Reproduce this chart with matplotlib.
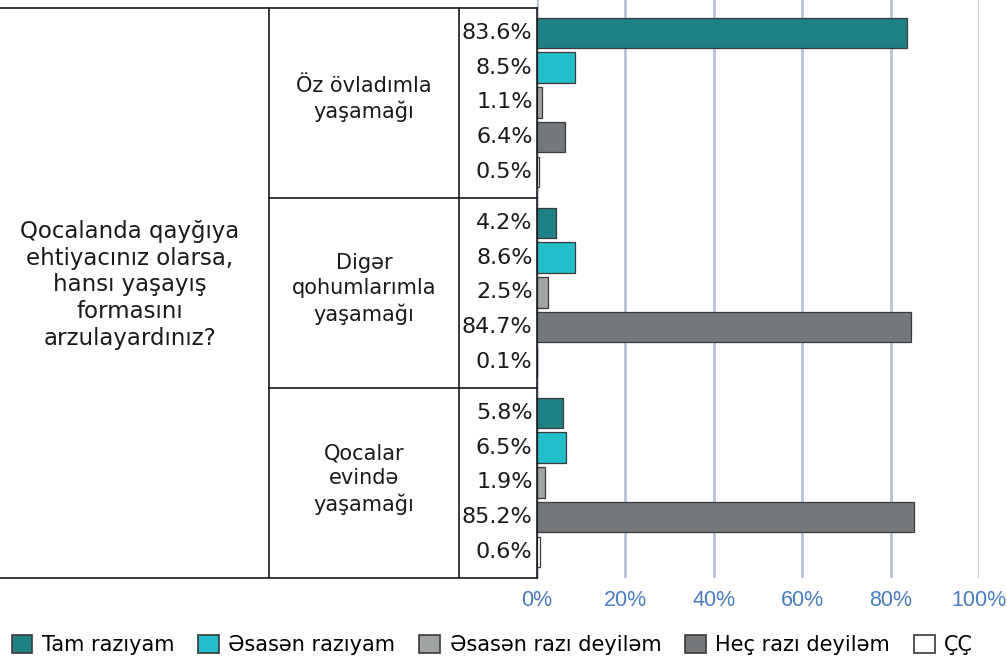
import numpy as np
import matplotlib
matplotlib.use("Agg")
import matplotlib.pyplot as plt
from matplotlib.patches import Patch
from matplotlib.lines import Line2D

# ---------------------------------------------------------------------------
# Données
# ---------------------------------------------------------------------------
QUESTION = "Qocalanda qayğıya\nehtiyacınız olarsa,\nhansı yaşayış\nformasını\narzulayardınız?"
GROUPS = ["Öz övladımla\nyaşamağı", "Digər\nqohumlarımla\nyaşamağı", "Qocalar\nevində\nyaşamağı"]
ANSWERS = ["Tam razıyam", "Əsasən razıyam", "Əsasən razı deyiləm", "Heç razı deyiləm", "ÇÇ"]

tam_raziyam   = [83.6, 4.2, 5.8]
esasen_razi   = [8.5, 8.6, 6.5]
esasen_deyil  = [1.1, 2.5, 1.9]
hec_deyil     = [6.4, 84.7, 85.2]
cc            = [0.5, 0.1, 0.6]

XTICKS = [0, 20, 40, 60, 80, 100]
XTICK_LABELS = ["0%", "20%", "40%", "60%", "80%", "100%"]

COLORS = ["#1f8086", "#22bfca", "#a0a3a4", "#75787b", "#ffffff"]
EDGE = "#3a3a3a"
TICK_BLUE = "#4a7cc0"

W, H = 1007, 659

# Mise en page (pixels, origine en haut à gauche)
TOP, BOTTOM = 8, 578
X0, X100 = 537, 979
SLOT_PX = 34.7          # pas entre deux barres d'un même groupe
PAD_PX = 25.0           # marge haut/bas dans un groupe


def px(x, y):
    """pixels -> coordonnées figure"""
    return x / W, 1 - y / H


def main() -> None:
    series = [tam_raziyam, esasen_razi, esasen_deyil, hec_deyil, cc]
    n_groups = len(GROUPS)
    n_ans = len(ANSWERS)
    group_px = (BOTTOM - TOP) / n_groups

    fig = plt.figure(figsize=(W / 100, H / 100), dpi=100)

    # axe des barres : du haut de l'image jusqu'au bas du tableau, en pixels
    ax = fig.add_axes([X0 / W, 1 - BOTTOM / H, (X100 - X0) / W, BOTTOM / H])
    ax.set_ylim(BOTTOM, 0)
    ax.set_xlim(0, 100)

    for g in range(n_groups):
        for k in range(n_ans):
            yc = TOP + g * group_px + PAD_PX + k * SLOT_PX
            val = series[k][g]
            ax.barh(yc, val, height=30.5, color=COLORS[k], edgecolor=EDGE, linewidth=0.9, zorder=3)
            ax.text(-0.01, yc, f"{val:.1f}%", transform=ax.get_yaxis_transform(),
                    ha="right", va="center", fontsize=16, color="#1a1a1a",
                    family="DejaVu Sans")

    ax.set_xticks(XTICKS)
    ax.set_xticklabels(XTICK_LABELS, fontsize=15.5, color=TICK_BLUE, family="Liberation Sans")
    ax.tick_params(axis="x", length=0, pad=9)
    ax.set_yticks([])
    for s in ax.spines.values():
        s.set_visible(False)
    ax.grid(axis="x", color="#b6c4da", linewidth=2, zorder=0)
    ax.set_axisbelow(True)

    # tableau à gauche
    lw = 1.2
    c = "#1a1a1a"

    def hline(y, xa, xb):
        fig.add_artist(Line2D([xa / W, xb / W], [1 - y / H, 1 - y / H], color=c, lw=lw))

    def vline(x, ya, yb):
        fig.add_artist(Line2D([x / W, x / W], [1 - ya / H, 1 - yb / H], color=c, lw=lw))

    hline(TOP, 0, X0)
    hline(BOTTOM, 0, X0)
    vline(269, TOP, BOTTOM)
    vline(459, TOP, BOTTOM)
    vline(X0, TOP, BOTTOM)
    for g in range(1, n_groups):
        hline(TOP + g * group_px, 269, X0)

    fig.text(*px(130, 285), QUESTION, ha="center", va="center", fontsize=16.5,
             linespacing=1.2, color="#1a1a1a", family="DejaVu Sans")
    for g, name in enumerate(GROUPS):
        fig.text(*px(364, TOP + (g + 0.5) * group_px - 4), name, ha="center", va="center",
                 fontsize=15, linespacing=1.3, color="#1a1a1a", family="DejaVu Sans")

    handles = [Patch(facecolor=COLORS[k], edgecolor=EDGE, linewidth=1.2) for k in range(n_ans)]
    fig.legend(handles, ANSWERS, loc="center", bbox_to_anchor=(0.489, 1 - 645 / H),
               ncol=n_ans, frameon=False, fontsize=15, handlelength=1.0, handleheight=1.0,
               handletextpad=0.45, columnspacing=1.15)

    fig.savefig("out.png", dpi=100)
    plt.close(fig)


if __name__ == "__main__":
    main()
